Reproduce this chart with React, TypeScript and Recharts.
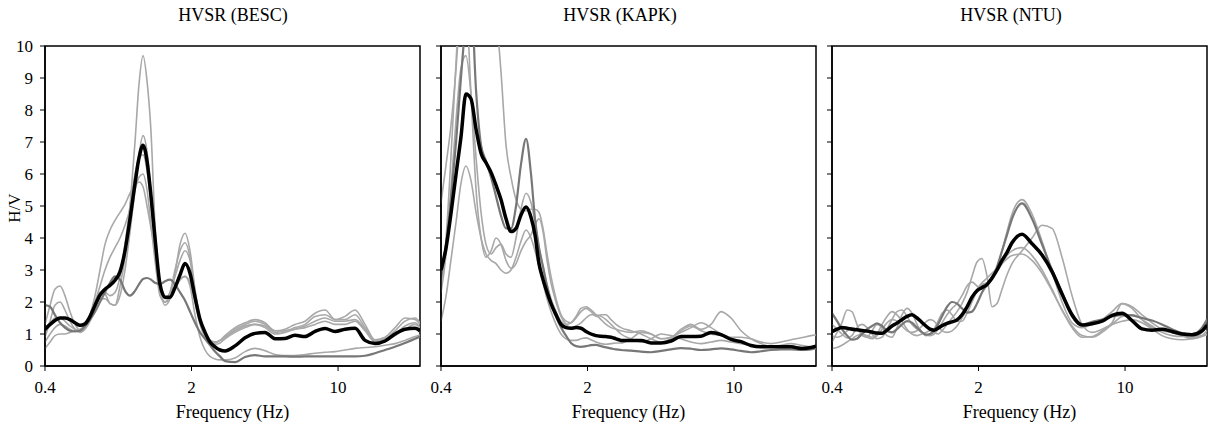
import { LineChart, Line, XAxis, YAxis, ReferenceArea } from "recharts";

const FONT = "'Liberation Serif', 'Times New Roman', serif";

// sample frequencies (Hz), shared by all three stations
const FREQ = [
  0.4, 0.423, 0.446, 0.472, 0.498, 0.526, 0.556, 0.588, 0.621, 0.656, 0.693, 0.732, 0.773, 0.817, 0.863, 0.912, 0.963, 1.018, 1.075,
  1.123, 1.174, 1.227, 1.282, 1.339, 1.415, 1.495, 1.579, 1.668, 1.763, 1.862, 1.967, 2.078, 2.196, 2.32, 2.45, 2.589, 2.735, 2.889,
  3.226, 3.6, 4.018, 4.484, 5.004, 5.585, 6.233, 6.96, 7.768, 8.67, 9.675, 10.8, 12.05, 13.45, 15.01, 16.76, 18.7, 20.87, 23.3, 24.6,
];
const X_TICKS = [0.4, 2, 10];
const Y_TICKS = [0, 1, 2, 3, 4, 5, 6, 7, 8, 9, 10];
const TITLES = ["HVSR (BESC)", "HVSR (KAPK)", "HVSR (NTU)"];

// BESC
const BESC_MEAN = [
  1.15, 1.3, 1.42, 1.5, 1.5, 1.45, 1.35, 1.27, 1.32, 1.55, 1.9, 2.22, 2.4, 2.52, 2.68, 2.95, 3.6, 4.6, 5.7,
  6.5, 6.9, 6.4, 5.3, 4.0, 2.55, 2.15, 2.15, 2.45, 2.85, 3.2, 2.9, 2.15, 1.45, 1.05, 0.75, 0.6, 0.5, 0.47,
  0.63, 0.88, 1.02, 1.05, 0.85, 0.86, 0.96, 0.92, 1.08, 1.17, 1.08, 1.15, 1.18, 0.8, 0.7, 0.78, 1.0, 1.15, 1.18, 1.1,
];
const BESC_A = [
  1.3, 1.9, 2.4, 2.5, 2.2, 1.7, 1.3, 1.12, 1.2, 1.5, 1.95, 2.3, 2.25, 1.95, 1.9, 2.5, 3.4, 5.0, 7.0,
  8.8, 9.7, 8.9, 7.3, 4.4, 2.5, 1.9, 2.1, 2.9, 3.8, 4.15, 3.6, 2.4, 1.5, 1.0, 0.78, 0.72, 0.8, 0.95,
  1.2, 1.35, 1.45, 1.35, 1.1, 1.15, 1.3, 1.4, 1.65, 1.75, 1.45, 1.55, 1.75, 1.3, 0.82, 0.9, 1.2, 1.5, 1.45, 1.3,
];
const BESC_B = [
  0.9, 1.4, 1.9, 2.0, 1.75, 1.4, 1.15, 1.05, 1.15, 1.4, 1.8, 2.1, 2.1, 1.95, 1.9, 2.2, 3.0, 4.2, 5.5,
  6.6, 7.2, 6.7, 5.4, 3.9, 2.3, 2.0, 2.3, 3.0, 3.6, 3.85, 3.4, 2.3, 1.4, 0.95, 0.8, 0.75, 0.8, 0.9,
  1.15, 1.3, 1.4, 1.3, 1.1, 1.1, 1.2, 1.3, 1.55, 1.6, 1.45, 1.45, 1.6, 1.2, 0.8, 0.85, 1.1, 1.4, 1.5, 1.35,
];
const BESC_C = [
  0.75, 1.0, 1.2, 1.3, 1.25, 1.15, 1.1, 1.1, 1.25, 1.6, 2.2, 3.0, 3.8, 4.25, 4.55, 4.8, 5.05, 5.4, 5.65,
  5.75, 5.6, 5.0, 4.3, 3.6, 2.4, 2.1, 2.3, 2.8, 3.3, 3.6, 3.3, 2.3, 1.4, 0.95, 0.8, 0.75, 0.8, 0.9,
  1.1, 1.25, 1.3, 1.25, 1.05, 1.1, 1.15, 1.25, 1.4, 1.5, 1.4, 1.4, 1.45, 1.15, 0.78, 0.8, 1.0, 1.25, 1.35, 1.2,
];
const BESC_E = [
  0.55, 0.75, 0.95, 1.0, 1.0, 1.05, 1.1, 1.15, 1.3, 1.6, 2.0, 2.5, 3.0, 3.4, 3.7, 4.0, 4.4, 4.9, 5.5,
  5.9, 6.0, 5.5, 4.4, 3.3, 2.2, 2.0, 2.1, 2.4, 2.7, 2.8, 2.5, 1.6, 0.9, 0.5, 0.3, 0.22, 0.19, 0.19,
  0.25, 0.45, 0.55, 0.48, 0.36, 0.33, 0.33, 0.36, 0.4, 0.43, 0.45, 0.5, 0.55, 0.58, 0.6, 0.65, 0.7, 0.8, 0.92, 0.97,
];
const BESC_F = [
  1.0, 1.3, 1.5, 1.5, 1.4, 1.25, 1.15, 1.1, 1.2, 1.45, 1.85, 2.2, 2.3, 2.2, 2.3, 2.8, 3.8, 5.0, 6.0,
  6.5, 6.6, 6.1, 5.0, 3.6, 2.3, 2.0, 2.15, 2.45, 2.7, 2.8, 2.6, 2.0, 1.3, 0.9, 0.72, 0.68, 0.72, 0.85,
  1.05, 1.2, 1.3, 1.2, 1.0, 1.05, 1.15, 1.2, 1.3, 1.4, 1.3, 1.3, 1.4, 1.1, 0.75, 0.78, 0.95, 1.15, 1.3, 1.2,
];
const BESC_DARK = [
  1.9, 1.85, 1.6, 1.35, 1.2, 1.1, 1.08, 1.1, 1.25, 1.45, 1.7, 2.0, 2.3, 2.6, 2.8, 2.7, 2.35, 2.2, 2.35,
  2.55, 2.72, 2.75, 2.7, 2.6, 2.56, 2.65, 2.7, 2.55, 2.3, 2.05, 1.7, 1.35, 1.05, 0.85, 0.65, 0.45, 0.3, 0.15,
  0.12, 0.28, 0.34, 0.3, 0.3, 0.3, 0.29, 0.3, 0.3, 0.3, 0.3, 0.3, 0.3, 0.32, 0.4, 0.5, 0.6, 0.72, 0.85, 0.92,
];

// KAPK
const KAPK_MEAN = [
  3.0, 3.7, 4.75, 6.0, 7.15, 8.5, 8.35, 7.4, 6.65, 6.35, 6.05, 5.65, 5.2, 4.6, 4.2, 4.3, 4.72, 4.97, 4.65,
  4.1, 3.2, 2.7, 2.3, 1.95, 1.6, 1.3, 1.2, 1.18, 1.2, 1.18, 1.08, 1.0, 0.95, 0.93, 0.92, 0.9, 0.85, 0.8,
  0.8, 0.8, 0.72, 0.72, 0.78, 0.92, 0.92, 0.93, 1.05, 0.98, 0.83, 0.76, 0.64, 0.6, 0.6, 0.6, 0.6, 0.55, 0.58, 0.62,
];
const KAPK_A = [
  5.1, 6.3, 7.5, 9.3, 11.5, 14, 16, 16, 15, 13.5, 12, 11, 9.2, 6.9, 5.9, 5.2, 4.9, 4.85, 4.9,
  4.9, 4.8, 4.3, 3.5, 2.8, 2.1, 1.6, 1.4, 1.35, 1.5, 1.7, 1.8, 1.7, 1.55, 1.6, 1.6, 1.45, 1.3, 1.2,
  1.1, 1.0, 0.85, 0.75, 0.85, 1.1, 1.25, 1.1, 1.0, 0.95, 0.85, 0.75, 0.65, 0.62, 0.6, 0.62, 0.62, 0.58, 0.55, 0.55,
];
const KAPK_B = [
  2.3, 3.5, 5.5, 7.7, 9.3, 9.7, 8.5, 6.5, 4.8, 3.8, 3.5, 3.7, 3.8, 3.5, 3.4, 4.0, 4.9, 5.4, 5.1,
  4.5, 3.7, 3.1, 2.55, 2.1, 1.7, 1.4, 1.3, 1.35, 1.55, 1.8, 1.85, 1.75, 1.6, 1.45, 1.3, 1.2, 1.15, 1.1,
  1.05, 1.1, 1.0, 0.85, 0.9, 1.15, 1.3, 1.15, 1.3, 1.7, 1.5, 1.1, 0.85, 0.7, 0.6, 0.58, 0.6, 0.58, 0.55, 0.58,
];
const KAPK_C = [
  1.4, 2.2, 3.3, 4.5, 5.7, 6.25, 5.8, 4.8, 4.0, 3.5, 3.3, 3.2, 3.0, 2.9, 3.0, 3.4, 3.9, 4.25, 4.0,
  3.6, 3.1, 2.6, 2.1, 1.7, 1.3, 1.0, 0.85, 0.8, 0.8, 0.85, 0.88, 0.82, 0.75, 0.7, 0.68, 0.7, 0.72, 0.72,
  0.85, 1.05, 1.0, 0.85, 0.9, 1.05, 1.2, 1.35, 1.2, 1.0, 0.9, 0.9, 0.85, 0.75, 0.7, 0.75, 0.82, 0.88, 0.95, 0.97,
];
const KAPK_D = [
  2.5, 4.0, 6.5, 9.5, 12, 11.5, 8.5, 5.5, 4.0, 3.4, 3.6, 4.0, 3.8, 3.3, 3.05, 3.2, 3.6, 3.9, 4.1,
  4.4, 4.6, 4.2, 3.3, 2.6, 2.0, 1.55, 1.3, 1.2, 1.25, 1.35, 1.5, 1.6, 1.6, 1.55, 1.45, 1.3, 1.15, 1.0,
  0.85, 0.75, 0.85, 1.0, 0.95, 0.85, 0.75, 0.7, 0.75, 0.8, 0.75, 0.7, 0.65, 0.6, 0.6, 0.65, 0.7, 0.65, 0.6, 0.62,
];
const KAPK_DARK = [
  2.8, 3.8, 5.2, 7.0, 9.0, 10.8, 11.5, 8.6, 6.9, 6.4, 5.9, 5.3, 4.7, 4.3, 4.3, 5.0, 6.3, 7.1, 6.0,
  4.6, 3.7, 3.1, 2.5, 2.0, 1.55, 1.2, 0.95, 0.72, 0.62, 0.6, 0.62, 0.65, 0.66, 0.62, 0.58, 0.55, 0.52, 0.5,
  0.48, 0.45, 0.43, 0.47, 0.52, 0.56, 0.54, 0.5, 0.52, 0.55, 0.52, 0.47, 0.43, 0.46, 0.5, 0.52, 0.52, 0.5, 0.52, 0.55,
];

// NTU
const NTU_MEAN = [
  1.07, 1.15, 1.2, 1.18, 1.15, 1.13, 1.11, 1.09, 1.06, 1.03, 1.02, 1.12, 1.25, 1.34, 1.45, 1.55, 1.6, 1.5, 1.36,
  1.25, 1.15, 1.12, 1.18, 1.26, 1.33, 1.38, 1.44, 1.6, 1.85, 2.15, 2.35, 2.45, 2.55, 2.75, 3.0, 3.3, 3.55, 3.85,
  4.12, 3.82, 3.47, 2.95, 2.25, 1.6, 1.28, 1.32, 1.4, 1.58, 1.65, 1.42, 1.16, 1.12, 1.15, 1.08, 1.0, 0.98, 1.1, 1.28,
];
const NTU_A = [
  0.75, 1.05, 1.35, 1.75, 1.7, 1.3, 0.95, 0.9, 1.1, 1.3, 1.2, 0.95, 0.9, 1.2, 1.6, 1.8, 1.65, 1.3, 1.05,
  0.95, 1.0, 1.15, 1.4, 1.65, 1.75, 1.6, 1.4, 1.4, 1.65, 2.0, 2.35, 2.55, 2.6, 2.7, 3.05, 3.6, 4.2, 4.75,
  5.2, 4.75, 3.9, 2.95, 2.0, 1.35, 1.2, 1.3, 1.45, 1.7, 1.95, 1.8, 1.45, 1.2, 1.1, 1.05, 0.95, 0.88, 1.05, 1.25,
];
const NTU_B = [
  0.55, 0.58, 0.65, 0.75, 0.85, 0.95, 1.0, 0.95, 0.9, 1.0, 1.3, 1.55, 1.7, 1.6, 1.4, 1.15, 1.0, 0.95, 1.0,
  1.05, 1.1, 1.05, 1.0, 1.1, 1.3, 1.5, 1.7, 1.95, 2.3, 2.8, 3.25, 3.36, 2.8, 1.85, 1.95, 2.4, 2.85, 3.2,
  3.6, 4.0, 4.4, 4.3, 3.4, 2.2, 1.3, 1.05, 1.15, 1.3, 1.4, 1.45, 1.35, 1.15, 0.95, 0.85, 0.82, 0.85, 0.92, 1.0,
];
const NTU_C = [
  1.3, 1.15, 1.0, 0.88, 0.95, 1.2, 1.3, 1.2, 1.0, 0.85, 0.9, 1.15, 1.45, 1.7, 1.75, 1.55, 1.3, 1.15, 1.05,
  0.98, 0.95, 1.0, 1.15, 1.35, 1.6, 1.8, 1.95, 2.2, 2.5, 2.62, 2.5, 2.4, 2.5, 2.7, 2.95, 3.2, 3.45, 3.6,
  3.7, 3.45, 3.0, 2.4, 1.75, 1.25, 0.95, 0.9, 1.05, 1.3, 1.55, 1.6, 1.45, 1.25, 1.05, 0.95, 0.92, 0.92, 0.95, 0.98,
];
const NTU_D = [
  0.95, 0.9, 0.95, 1.1, 1.2, 1.15, 1.0, 0.9, 0.85, 0.95, 1.15, 1.35, 1.45, 1.4, 1.25, 1.1, 1.05, 1.1, 1.25,
  1.38, 1.45, 1.4, 1.25, 1.1, 1.05, 1.1, 1.25, 1.5, 1.8, 2.1, 2.4, 2.6, 2.75, 2.9, 3.05, 3.2, 3.35, 3.45,
  3.5, 3.3, 2.9, 2.35, 1.75, 1.2, 0.9, 0.92, 1.1, 1.35, 1.95, 1.85, 1.6, 1.35, 1.15, 1.05, 0.95, 0.85, 0.95, 1.1,
];
const NTU_DARK = [
  1.65, 1.4, 1.15, 0.95, 0.82, 0.85, 1.0, 1.15, 1.25, 1.33, 1.25, 1.1, 1.05, 1.15, 1.3, 1.4, 1.35, 1.2, 1.05,
  0.98, 1.0, 1.1, 1.3, 1.55, 1.85, 2.0, 1.95, 1.8, 1.67, 1.7, 1.95, 2.3, 2.55, 2.75, 3.1, 3.6, 4.1, 4.6,
  5.08, 4.6, 3.8, 3.0, 2.3, 1.55, 1.3, 1.38, 1.45, 1.55, 1.6, 1.58, 1.5, 1.42, 1.3, 1.15, 1.03, 1.0, 1.2, 1.45,
];

const X_DOMAIN: [number, number] = [0.4, 24.6];

function buildRows(light: number[][], dark: number[], mean: number[]) {
  return FREQ.map((f, i) => {
    const row: Record<string, number> = { f, dark: dark[i], mean: mean[i] };
    light.forEach((s, k) => {
      row[`g${k}`] = s[i];
    });
    return row;
  });
}

interface PanelProps {
  left: number;
  width: number;
  marginLeft: number;
  yWidth: number;
  showYLabels: boolean;
  light: number[][];
  dark: number[];
  mean: number[];
}

function Panel({ left, width, marginLeft, yWidth, showYLabels, light, dark, mean }: PanelProps) {
  const rows = buildRows(light, dark, mean);
  return (
    <div style={{ position: "absolute", left, top: 0 }}>
      <LineChart width={width} height={425} data={rows} margin={{ top: 46, right: 5, bottom: 5, left: marginLeft }}>
        <XAxis
          dataKey="f"
          type="number"
          scale="log"
          domain={X_DOMAIN}
          ticks={X_TICKS}
          allowDataOverflow
          height={54}
          tickSize={5}
          tickMargin={10}
          axisLine={{ stroke: "#000", strokeWidth: 1.5 }}
          tickLine={{ stroke: "#000" }}
          tick={{ fill: "#000", fontSize: 17, fontFamily: FONT }}
          tickFormatter={(v) => String(v)}
          label={{ value: "Frequency (Hz)", position: "insideBottom", offset: 2, fill: "#000", fontSize: 18, fontFamily: FONT }}
        />
        <YAxis
          type="number"
          domain={[0, 10]}
          ticks={Y_TICKS}
          allowDataOverflow
          interval={0}
          width={yWidth}
          tickSize={5}
          tickMargin={7}
          axisLine={{ stroke: "#000", strokeWidth: 1.5 }}
          tickLine={{ stroke: "#000" }}
          tick={{ fill: "#000", fontSize: 17, fontFamily: FONT }}
          tickFormatter={(v) => (showYLabels ? String(v) : "")}
        />
        {light.map((_, k) => (
          <Line
            key={k}
            type="monotone"
            dataKey={`g${k}`}
            stroke="#a8a8a8"
            strokeWidth={1.6}
            dot={false}
            activeDot={false}
            isAnimationActive={false}
          />
        ))}
        <Line type="monotone" dataKey="dark" stroke="#777" strokeWidth={2.2} dot={false} activeDot={false} isAnimationActive={false} />
        <Line type="monotone" dataKey="mean" stroke="#000" strokeWidth={3.5} dot={false} activeDot={false} isAnimationActive={false} />
        <ReferenceArea x1={X_DOMAIN[0]} x2={X_DOMAIN[1]} y1={0} y2={10} fill="none" stroke="#000" strokeWidth={1.5} />
      </LineChart>
    </div>
  );
}

export default function App() {
  return (
    <div style={{ position: "absolute", left: 0, top: 0, width: 1212, height: 425, background: "#fff", fontFamily: FONT }}>
      <Panel left={0} width={425} marginLeft={15} yWidth={30} showYLabels light={[BESC_A, BESC_B, BESC_C, BESC_E, BESC_F]} dark={BESC_DARK} mean={BESC_MEAN} />
      <Panel left={421} width={400} marginLeft={0} yWidth={20} showYLabels={false} light={[KAPK_A, KAPK_B, KAPK_C, KAPK_D]} dark={KAPK_DARK} mean={KAPK_MEAN} />
      <Panel left={812} width={400} marginLeft={0} yWidth={20} showYLabels={false} light={[NTU_A, NTU_B, NTU_C, NTU_D]} dark={NTU_DARK} mean={NTU_MEAN} />
      <svg width={1212} height={425} style={{ position: "absolute", left: 0, top: 0, pointerEvents: "none" }}>
        <g fontFamily={FONT} fontSize={18} fill="#000" textAnchor="middle">
          <text x={233} y={21}>{TITLES[0]}</text>
          <text x={620} y={21}>{TITLES[1]}</text>
          <text x={1011} y={21}>{TITLES[2]}</text>
        </g>
        <text transform="translate(14,208) rotate(-90)" textAnchor="middle" dominantBaseline="central" fontFamily={FONT} fontSize={17} fill="#000">
          H/V
        </text>
      </svg>
    </div>
  );
}
